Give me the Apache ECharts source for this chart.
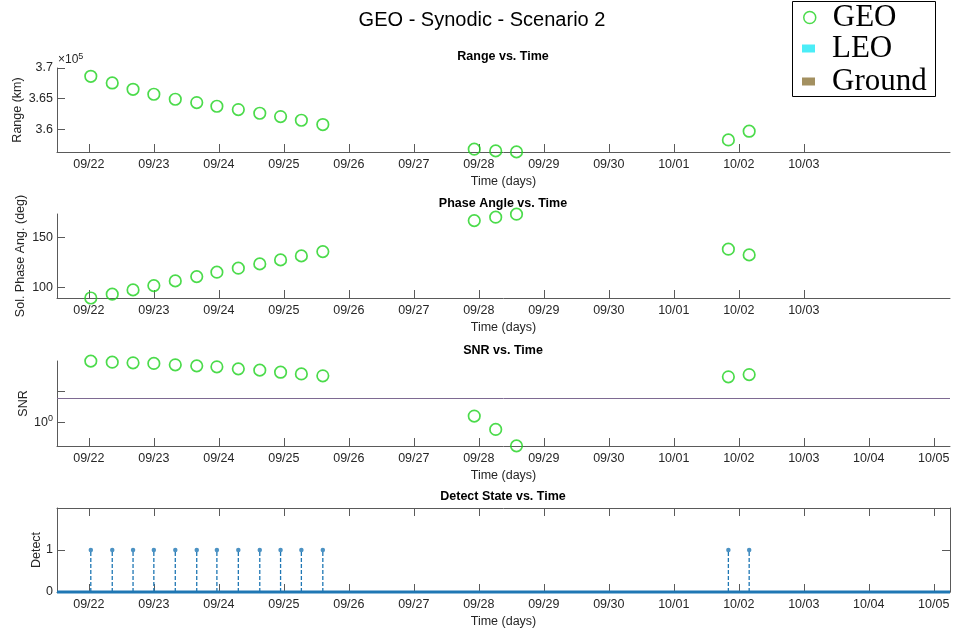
<!DOCTYPE html>
<html>
<head>
<meta charset="utf-8">
<title>GEO - Synodic - Scenario 2</title>
<script src="https://cdn.jsdelivr.net/npm/echarts@6/dist/echarts.min.js"></script>
<style>
  html, body { margin: 0; padding: 0; background: #fff; }
  #chart { width: 955px; height: 632px; }
</style>
</head>
<body>
<div id="chart"></div>
<script>
// observation times, in days after 09/22 00:00
const obsDays = [0.03, 0.36, 0.68, 1.00, 1.33, 1.66, 1.97, 2.30, 2.63, 2.95, 3.27, 3.60,
  5.93, 6.26, 6.58, 9.84, 10.16];
const rangeKm = [368650, 367560, 366530, 365720, 364900, 364360, 363760, 363220, 362620,
  362080, 361480, 360780, 356760, 356480, 356320, 358270, 359690];
const phaseDeg = [89.6, 93.4, 97.7, 102.0, 106.7, 111.0, 115.4, 119.4, 123.7, 127.7,
  131.7, 136.0, 167.0, 170.4, 173.4, 138.4, 132.7];
const snr = [3.84, 3.75, 3.70, 3.65, 3.54, 3.46, 3.39, 3.24, 3.15, 3.01, 2.90, 2.78,
  1.15, 0.857, 0.598, 2.72, 2.86];
const detect = [1, 1, 1, 1, 1, 1, 1, 1, 1, 1, 1, 1, 0, 0, 0, 1, 1];
const snrThreshold = 1.69;
const timeWindow = [-0.49, 13.25];

const dayLabels = ['09/22', '09/23', '09/24', '09/25', '09/26', '09/27', '09/28',
  '09/29', '09/30', '10/01', '10/02', '10/03', '10/04', '10/05'];
const rangeTicks = [360000, 365000, 370000];
const phaseTicks = [100, 150];
const snrTicks = [1, 2];
const snrLabelTicks = [1];
const detectTicks = [0, 1];

const FONT = '"Liberation Sans", Arial, Helvetica, sans-serif';
const AXIS = '#5a5a5a';
const TXT = '#262626';
const GREEN = '#1ed21e';
const BLUE = '#1f77b4';
const FS = 12.5;

const chart = echarts.init(document.getElementById('chart'));

const dayIdx = dayLabels.map((_, i) => i);

// x axis shared by the four panels (days)
function timeAxis(gridIndex, nTicks, extra) {
  const ticks = dayIdx.slice(0, nTicks);
  return Object.assign({
    type: 'value',
    gridIndex,
    min: timeWindow[0],
    max: timeWindow[1],
    name: 'Time (days)',
    nameLocation: 'middle',
    nameGap: 23,
    nameMoveOverlap: false,
    nameTextStyle: { color: TXT, fontSize: FS, fontFamily: FONT },
    axisLine: { show: true, onZero: false, lineStyle: { color: AXIS } },
    axisTick: { show: true, inside: true, length: 8, customValues: ticks, lineStyle: { color: AXIS } },
    axisLabel: {
      customValues: ticks, margin: 6, color: TXT, fontSize: FS, fontFamily: FONT,
      formatter: (v) => dayLabels[Math.round(v)],
    },
    splitLine: { show: false },
  }, extra || {});
}

function valueAxis(gridIndex, name, nameGap, min, max, ticks, labelTicks, fmt) {
  return {
    type: 'value',
    gridIndex,
    min,
    max,
    name,
    nameLocation: 'middle',
    nameGap,
    nameMoveOverlap: false,
    nameTextStyle: { color: TXT, fontSize: FS, fontFamily: FONT },
    axisLine: { show: true, onZero: false, lineStyle: { color: AXIS } },
    axisTick: { show: true, inside: true, length: 8, customValues: ticks, lineStyle: { color: AXIS } },
    axisLabel: {
      customValues: labelTicks, margin: 4, color: TXT, fontSize: FS, fontFamily: FONT,
      formatter: fmt,
      rich: {
        base: { fontSize: FS, color: TXT, fontFamily: FONT },
        sup: { fontSize: 9, color: TXT, fontFamily: FONT, padding: [0, 0, 7, 0] },
      },
    },
    splitLine: { show: false },
  };
}

const log10 = (v) => Math.log10(v);

const geoStyle = { color: 'rgba(0,0,0,0)', borderColor: GREEN, borderWidth: 1.7 };

function geoSeries(axisIndex, values) {
  return {
    name: 'GEO',
    type: 'scatter',
    xAxisIndex: axisIndex,
    yAxisIndex: axisIndex,
    symbol: 'circle',
    symbolSize: 11.5,
    clip: false,
    itemStyle: geoStyle,
    data: obsDays.map((d, i) => [d, values[i]]),
  };
}

const detections = obsDays
  .map((d, i) => [d, detect[i]])
  .filter((p) => p[1] === 1);

const titleFont = { fontFamily: FONT, fontSize: 12.5, fontWeight: 'bold', color: '#000' };
function subTitle(text, y) {
  return { text, left: 503, top: y, padding: 0, textAlign: 'center', textVerticalAlign: 'middle', textStyle: titleFont };
}

function panel(top, height) {
  return { left: 57, right: 5, top, height, outerBoundsMode: 'none', containLabel: false };
}

const option = {
  animation: false,
  backgroundColor: '#fff',
  title: [
    {
      text: 'GEO - Synodic - Scenario 2', left: 482, top: 20.5, padding: 0,
      textAlign: 'center', textVerticalAlign: 'middle',
      textStyle: { fontFamily: FONT, fontSize: 20, fontWeight: 'normal', color: '#000' },
    },
    subTitle('Range vs. Time', 57),
    subTitle('Phase Angle vs. Time', 204),
    subTitle('SNR vs. Time', 351),
    subTitle('Detect State vs. Time', 497),
    {
      text: '{a|×10}{b|5}', left: 58, top: 60, padding: 0, textVerticalAlign: 'middle',
      textStyle: {
        fontWeight: 'normal',
        rich: {
          a: { fontSize: 12, fontWeight: 'normal', color: TXT, fontFamily: FONT },
          b: { fontSize: 9, fontWeight: 'normal', color: TXT, fontFamily: FONT, padding: [0, 0, 7, 0] },
        },
      },
    },
  ],
  legend: [
    {
      data: [{ name: 'GEO', icon: 'circle', itemStyle: { color: 'rgba(0,0,0,0)', borderColor: GREEN, borderWidth: 1.5 } }],
      left: 803, top: 2, padding: 0,
      itemWidth: 12, itemHeight: 12,
      selectedMode: false,
      textStyle: { fontFamily: '"Liberation Serif", "Times New Roman", serif', fontSize: 31, color: '#000', padding: [0, 0, 0, 12] },
    },
    {
      data: [{ name: 'LEO', icon: 'rect' }, { name: 'Ground', icon: 'rect' }],
      orient: 'vertical',
      left: 802, top: 33, padding: 0,
      itemWidth: 13, itemHeight: 8, itemGap: 2,
      selectedMode: false,
      textStyle: { fontFamily: '"Liberation Serif", "Times New Roman", serif', fontSize: 31, color: '#000', padding: [0, 0, 0, 12] },
    },
  ],
  graphic: [
    {
      type: 'rect', silent: true,
      shape: { x: 792.5, y: 1.5, width: 143, height: 95 },
      style: { fill: 'none', stroke: '#000', lineWidth: 1 },
    },
  ],
  grid: [
    panel(68, 84),
    panel(214, 84),
    panel(361, 85),
    panel(508, 84),
  ],
  xAxis: [
    timeAxis(0, 12),
    timeAxis(1, 12),
    timeAxis(2, 14),
    timeAxis(3, 14),
    timeAxis(3, 14, { position: 'top', name: '', axisLabel: { show: false } }),
  ],
  yAxis: [
    valueAxis(0, 'Range (km)', 33, 356300, 370000, rangeTicks, rangeTicks, (v) => String(v / 1e5)),
    valueAxis(1, 'Sol. Phase Ang. (deg)', 30, 89.6, 173.6, phaseTicks, phaseTicks, (v) => String(v)),
    valueAxis(2, 'SNR', 27, log10(0.596), log10(3.85), snrTicks.map(log10), snrLabelTicks.map(log10),
      (v) => '{base|10}{sup|' + Math.round(v) + '}'),
    valueAxis(3, 'Detect', 14, 0, 2, detectTicks, detectTicks, (v) => String(v)),
    Object.assign(valueAxis(3, '', 0, 0, 2, detectTicks, detectTicks, (v) => String(v)),
      { position: 'right', axisLabel: { show: false } }),
  ],
  series: [
    geoSeries(0, rangeKm),
    geoSeries(1, phaseDeg),
    Object.assign(geoSeries(2, snr.map(log10)), {
      markLine: {
        silent: true, symbol: 'none', label: { show: false },
        lineStyle: { color: '#7e6a92', width: 1, type: 'solid' },
        data: [{ yAxis: log10(snrThreshold) }],
      },
    }),
    {
      name: 'detectBase',
      type: 'line',
      xAxisIndex: 3, yAxisIndex: 3,
      symbol: 'none', clip: false,
      lineStyle: { color: BLUE, width: 3 },
      data: timeWindow.map((t) => [t, 0]),
      z: 3,
    },
    {
      name: 'detectStem',
      type: 'custom',
      xAxisIndex: 3, yAxisIndex: 3,
      data: detections,
      renderItem: (params, api) => {
        const top = api.coord([api.value(0), api.value(1)]);
        const base = api.coord([api.value(0), 0]);
        return {
          type: 'line',
          shape: { x1: base[0], y1: base[1], x2: top[0], y2: top[1] },
          style: { stroke: BLUE, lineWidth: 1.3, lineDash: [4, 2] },
        };
      },
    },
    {
      name: 'detectMark',
      type: 'scatter',
      xAxisIndex: 3, yAxisIndex: 3,
      symbol: 'circle', symbolSize: 4.5,
      itemStyle: { color: BLUE },
      data: detections,
    },
    { name: 'LEO', type: 'scatter', xAxisIndex: 0, yAxisIndex: 0, itemStyle: { color: '#1ee8f5' }, data: [] },
    { name: 'Ground', type: 'scatter', xAxisIndex: 0, yAxisIndex: 0, itemStyle: { color: '#8c7438' }, data: [] },
  ],
};

chart.setOption(option);
</script>
</body>
</html>
